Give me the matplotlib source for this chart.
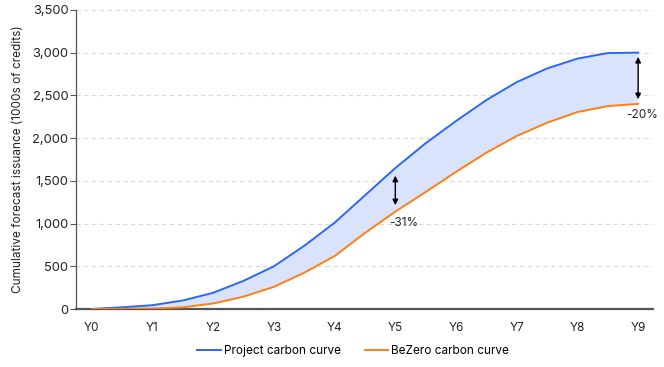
import matplotlib
matplotlib.use("Agg")
import matplotlib.pyplot as plt
import numpy as np

plt.rcParams["font.family"] = ["Inter", "DejaVu Sans"]

C_BLUE = "#2b66f5"
C_ORANGE = "#ff7f11"
C_FILL = "#d9e3fb"
C_AXIS = "#555555"

# half-year steps from Y0 to Y9
x = np.arange(0, 9.01, 0.5)
project = [0, 20, 45, 100, 190, 330, 500, 740, 1010, 1330, 1650, 1940,
           2200, 2445, 2655, 2815, 2930, 2995, 3000]
bezero = [0, 2, 5, 20, 65, 145, 260, 425, 620, 890, 1140, 1370,
          1605, 1830, 2025, 2180, 2305, 2375, 2400]
xtick_labels = [f"Y{i}" for i in range(10)]

fig = plt.figure(figsize=(6.64, 3.67), dpi=100)
ax = fig.add_axes([0.1145, 0.158, 0.8685, 0.815])

ax.fill_between(x, bezero, project, color=C_FILL, lw=0, zorder=1)
ax.plot(x, project, color=C_BLUE, lw=1.4, label="Project carbon curve", zorder=3)
ax.plot(x, bezero, color=C_ORANGE, lw=1.4, label="BeZero carbon curve", zorder=3)

# gap arrows
ax.annotate("", xy=(5, 1215), xytext=(5, 1560),
            arrowprops=dict(arrowstyle="<|-|>", color="black", lw=1.0,
                            mutation_scale=8, shrinkA=0, shrinkB=0))
ax.text(5.13, 1010, "-31%", fontsize=8.5, ha="center", va="center", color="#222222")
ax.annotate("", xy=(9, 2455), xytext=(9, 2950),
            arrowprops=dict(arrowstyle="<|-|>", color="black", lw=1.0,
                            mutation_scale=8, shrinkA=0, shrinkB=0))
ax.text(9.06, 2270, "-20%", fontsize=8.5, ha="center", va="center", color="#222222")

ax.set_xlim(-0.26, 9.24)
ax.set_ylim(0, 3500)
ax.set_xticks(range(10))
ax.set_xticklabels(xtick_labels)
ax.set_yticks(np.arange(0, 3501, 500))
ax.set_yticklabels([f"{v:,}" for v in range(0, 3501, 500)])
ax.tick_params(axis="x", length=0, pad=9, labelsize=8.5, colors="#222222")
ax.tick_params(axis="y", length=4, width=0.8, color=C_AXIS, labelsize=9.3,
               labelcolor="#222222", pad=1.5)
ax.set_ylabel("Cumulative forecast issuance (1000s of credits)", fontsize=8.5,
              color="#222222", labelpad=6)
ax.grid(axis="y", ls=(0, (4, 3)), color="#d8d8d8", lw=0.8, zorder=0)
ax.set_axisbelow(True)
for s in ["top", "right"]:
    ax.spines[s].set_visible(False)
ax.spines["left"].set_color(C_AXIS)
ax.spines["left"].set_linewidth(0.9)
ax.spines["bottom"].set_color(C_AXIS)
ax.spines["bottom"].set_linewidth(1.6)

fig.legend(loc="center", bbox_to_anchor=(0.532, 0.044), ncol=2, frameon=False,
           fontsize=8.5, handlelength=2.0, handletextpad=0.25, columnspacing=2.0)

fig.savefig("out.png", dpi=100, facecolor="white")
